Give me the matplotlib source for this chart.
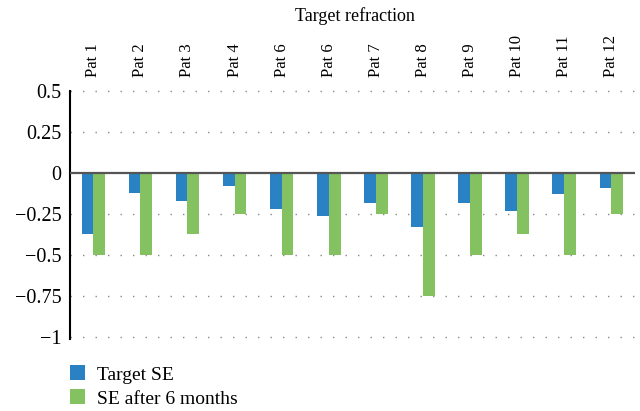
import matplotlib.pyplot as plt
import numpy as np

# patients (the label "Pat 6" appears twice in the original)
patients = ["Pat 1", "Pat 2", "Pat 3", "Pat 4", "Pat 6", "Pat 6",
            "Pat 7", "Pat 8", "Pat 9", "Pat 10", "Pat 11", "Pat 12"]
target_se = [-0.37, -0.12, -0.17, -0.08, -0.22, -0.26,
             -0.18, -0.33, -0.18, -0.23, -0.13, -0.09]
se_6m = [-0.5, -0.5, -0.37, -0.25, -0.5, -0.5,
         -0.25, -0.75, -0.5, -0.37, -0.5, -0.25]
yticks = [0.5, 0.25, 0, -0.25, -0.5, -0.75, -1]
ylabels = ["0.5", "0.25", "0", "\u22120.25", "\u22120.5", "\u22120.75", "\u22121"]

plt.rcParams["font.family"] = ["Liberation Serif", "DejaVu Serif"]

fig = plt.figure(figsize=(6.4, 4.11), dpi=100)
ax = fig.add_axes([0.109, 0.175, 0.883, 0.604])

x = np.arange(len(patients))
w = 0.25
ax.bar(x - w / 2, target_se, w, color="#2a82c4", label="Target SE", zorder=3)
ax.bar(x + w / 2, se_6m, w, color="#84c161", label="SE after 6 months", zorder=3)

ax.set_xlim(-0.5, len(patients) - 0.5)
ax.set_ylim(-1.01, 0.5)
ax.set_yticks(yticks)
ax.set_yticklabels(ylabels, fontsize=14.5)

# grid dotted, zero line solid
for y in yticks:
    if y == 0:
        ax.axhline(0, color="#555555", lw=1.6, zorder=4)
    else:
        ax.axhline(y, color="#888888", lw=1, ls=(0, (1, 8)), zorder=1, clip_on=False)

# category labels on top
ax.xaxis.tick_top()
ax.set_xticks(x)
ax.set_xticklabels(patients, rotation=90, fontsize=12)
ax.tick_params(axis="x", length=0, pad=10)
ax.tick_params(axis="y", length=0, pad=6)

for s in ["top", "right", "bottom"]:
    ax.spines[s].set_visible(False)
ax.spines["left"].set_linewidth(1.5)

fig.text(0.555, 0.962, "Target refraction", ha="center", va="center", fontsize=13)

fig.legend(loc="upper left", bbox_to_anchor=(0.097, 0.13), frameon=False,
           fontsize=14, handlelength=0.8, handleheight=0.8, handletextpad=0.6,
           labelspacing=0.3, borderaxespad=0)

fig.savefig("out.png", dpi=100)
